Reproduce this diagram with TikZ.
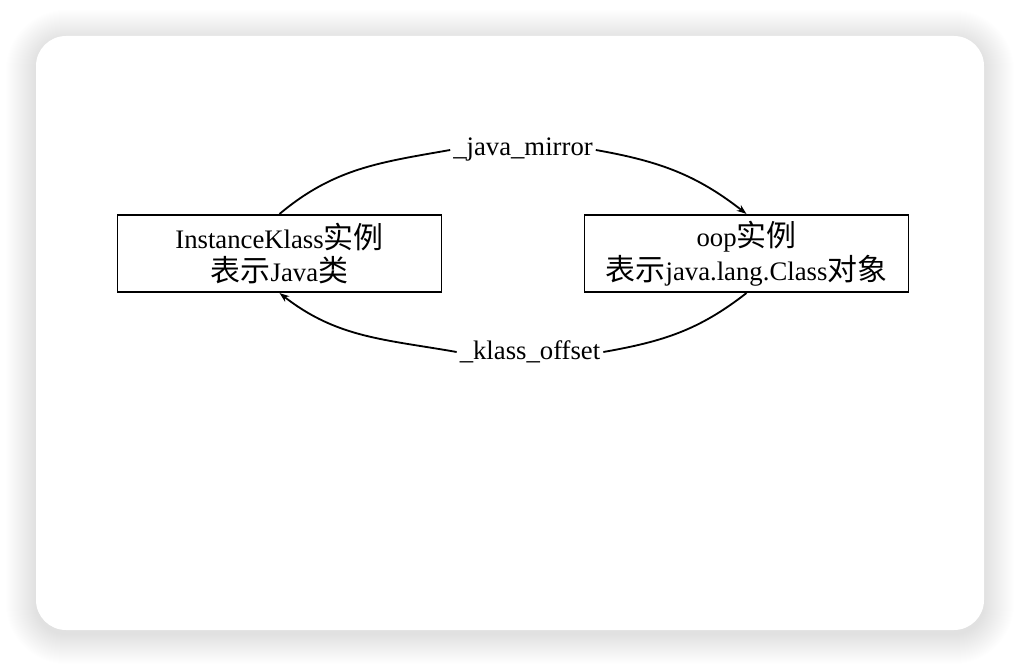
\documentclass[tikz,border=0pt]{standalone}
\usepackage{fontspec}
\usetikzlibrary{arrows.meta}
\setmainfont{Liberation Serif}
\newfontfamily\cjk[Scale=1.12]{Noto Sans CJK SC}

\begin{document}
\begin{tikzpicture}[x=0.025cm, y=0.025cm, >={Stealth[length=7pt,width=5pt]},
    box/.style={draw, line width=1.3pt, minimum width=8.1cm, minimum height=1.93cm, align=center,
                font=\fontsize{19pt}{24pt}\selectfont},
    lbl/.style={inner sep=2pt, font=\fontsize{19pt}{22pt}\selectfont},
    link/.style={line width=1.3pt}]
    % page and card with soft shadow
    \fill[white] (0,0) rectangle (1020,666);
    \foreach \i in {1,...,30} {
        \pgfmathsetmacro\rr{0.75+\i*0.025}
        \fill[black, opacity=0.005, rounded corners=\rr cm] (36-\i,32-\i) rectangle (984+\i,626+\i);
    }
    \fill[white, rounded corners=0.75cm] (36,36) rectangle (984,630);

    \node[box] (lbox) at (279.5,412.5) {InstanceKlass{\cjk 实例}\\{\cjk 表示}Java{\cjk 类}};
    \node[box] (rbox) at (746.5,412.5) {oop{\cjk 实例}\\{\cjk 表示}java.lang.Class{\cjk 对象}};
    \node[lbl] (mirror) at (523,516) {\_java\_mirror};
    \node[lbl] (offset) at (530,314) {\_klass\_offset};

    \draw[link] (lbox.north) to[out=40,in=190] (mirror.west);
    \draw[link, ->] (mirror.east) to[out=-10,in=142] (rbox.north);
    \draw[link] (rbox.south) to[out=-142,in=10] (offset.east);
    \draw[link, ->] (offset.west) to[out=170,in=-38] (lbox.south);
\end{tikzpicture}
\end{document}
